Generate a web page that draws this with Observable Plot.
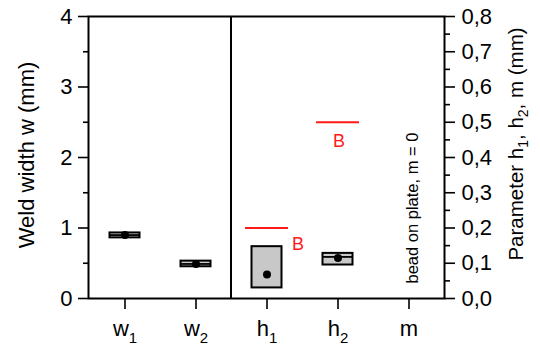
<!DOCTYPE html>
<html><head><meta charset="utf-8">
<script src="https://cdn.jsdelivr.net/npm/d3@7"></script>
<script src="https://cdn.jsdelivr.net/npm/@observablehq/plot@0.6"></script>
<style>
body{margin:0;background:#fff}
svg{font-family:"Liberation Sans",Arial,sans-serif;overflow:visible}
</style>
</head><body><div id="chart"></div>
<script>
// ---- data ----
const categories = ["w1", "w2", "h1", "h2", "m"];
const boxLow   = [0.86, 0.45, 0.030, 0.095, null];
const boxHigh  = [0.93, 0.53, 0.147, 0.128, null];
const medians  = [0.90, 0.49, null, 0.118, null];
const means    = [0.90, 0.49, 0.068, 0.115, null];
const onRightAxis = [false, false, true, true, true];
const limitCats   = ["h1", "h2"];
const limitValues = [0.2, 0.5];
const limitLabel  = "B";
const noteText = "bead on plate, m = 0";
const noteValue = 0;
const leftMajor = [0, 1, 2, 3, 4];
const leftMinor = [0.5, 1.5, 2.5, 3.5];
const rightMajor = [0, 0.1, 0.2, 0.3, 0.4, 0.5, 0.6, 0.7, 0.8];
const rightMinor = [0.05, 0.15, 0.25, 0.35, 0.45, 0.55, 0.65, 0.75];
const leftMax = 4, rightMax = 0.8;

// map right-axis values (mm) onto the shared y scale
const toY = v => v * leftMax / rightMax;
const rows = categories.map((c, i) => {
  const f = onRightAxis[i] ? toY : (v => v);
  return {
    cat: c,
    lo: boxLow[i] == null ? null : f(boxLow[i]),
    hi: boxHigh[i] == null ? null : f(boxHigh[i]),
    med: medians[i] == null ? null : f(medians[i]),
    mean: means[i] == null ? null : f(means[i])
  };
});
const limits = limitCats.map((c, i) => ({cat: c, y: toY(limitValues[i]), label: limitLabel}));
const fmtR = d => (d / (leftMax / rightMax)).toFixed(1).replace(".", ",");

const chart = Plot.plot({
  width: 540, height: 352,
  marginLeft: 88, marginRight: 96, marginTop: 16, marginBottom: 54,
  style: {fontFamily: '"Liberation Sans", Arial, sans-serif', background: "white"},
  x: {domain: categories, padding: 0, label: null},
  y: {domain: [0, leftMax], label: null},
  marks: [
    Plot.axisY({anchor: "left", ticks: leftMajor, tickSize: 10, tickPadding: 6, fontSize: 22, strokeWidth: 1.6, label: null, tickFormat: d => String(d)}),
    Plot.axisY({anchor: "left", ticks: leftMinor, tickSize: 5, tickFormat: () => "", strokeWidth: 1.6, label: null}),
    Plot.axisY({anchor: "right", ticks: rightMajor.map(toY), tickSize: 10, tickPadding: 7, fontSize: 22, strokeWidth: 1.6, label: null, tickFormat: fmtR}),
    Plot.axisY({anchor: "right", ticks: rightMinor.map(toY), tickSize: 5, tickFormat: () => "", strokeWidth: 1.6, label: null}),
    Plot.axisX({tickSize: 11, tickPadding: 11, fontSize: 22, strokeWidth: 1.6, label: null}),
    Plot.barY(rows.filter(d => d.lo != null), {x: "cat", y1: "lo", y2: "hi", fill: "#c8c8c8", stroke: "black", strokeWidth: 2, insetLeft: 20.5, insetRight: 20.5}),
    Plot.tickY(rows.filter(d => d.med != null), {x: "cat", y: "med", stroke: "black", strokeWidth: 1.8, inset: 20.5}),
    Plot.dot(rows.filter(d => d.mean != null), {x: "cat", y: "mean", r: 4, fill: "black", stroke: "none"}),
    Plot.tickY(limits, {x: "cat", y: "y", stroke: "#ff1a1a", strokeWidth: 2.2, inset: 14}),
    Plot.text(limits.filter(d => d.cat === "h1"), {x: "cat", y: "y", text: "label", fill: "#ff1a1a", fontSize: 18, dx: 31, dy: 16}),
    Plot.text(limits.filter(d => d.cat === "h2"), {x: "cat", y: "y", text: "label", fill: "#ff1a1a", fontSize: 18, dx: 1, dy: 19}),
    Plot.text([noteText], {x: () => "m", y: () => noteValue, text: d => d, rotate: -90, textAnchor: "start", lineAnchor: "middle", fontSize: 16.5, fill: "black", dx: 4, dy: -15}),
    Plot.frame({stroke: "black", strokeWidth: 2})
  ]
});
document.getElementById("chart").appendChild(chart);

const svg = d3.select(chart);
// divider between the w-group and the h-group, at the band boundary
const xs = chart.scale("x");
const xDiv = xs.apply("h1");
const ys = chart.scale("y");
svg.append("line")
  .attr("x1", xDiv).attr("x2", xDiv)
  .attr("y1", ys.apply(leftMax)).attr("y2", ys.apply(0))
  .attr("stroke", "black").attr("stroke-width", 2);

// subscripts on x tick labels
svg.selectAll('g[aria-label="x-axis tick label"] text').each(function() {
  const t = d3.select(this);
  const s = t.text();
  t.text(null);
  t.append("tspan").text(s[0]);
  if (s.length > 1) t.append("tspan").attr("dy", 7).attr("font-size", 15).text(s.slice(1));
});

// axis titles
const plotMid = (ys.apply(0) + ys.apply(leftMax)) / 2;
svg.append("text")
  .attr("transform", `translate(28,${plotMid - 2}) rotate(-90)`)
  .attr("text-anchor", "middle").attr("dominant-baseline", "middle")
  .attr("font-size", 22).attr("fill", "black")
  .text("Weld width w (mm)");

const rt = svg.append("text")
  .attr("transform", `translate(518,${plotMid - 13}) rotate(-90)`)
  .attr("text-anchor", "middle").attr("dominant-baseline", "middle")
  .attr("font-size", 20.5).attr("fill", "black");
rt.append("tspan").text("Parameter h");
rt.append("tspan").attr("font-size", 14).attr("dy", 6).text("1");
rt.append("tspan").attr("dy", -6).text(", h");
rt.append("tspan").attr("font-size", 14).attr("dy", 6).text("2");
rt.append("tspan").attr("dy", -6).text(", m (mm)");
</script>
</body></html>
